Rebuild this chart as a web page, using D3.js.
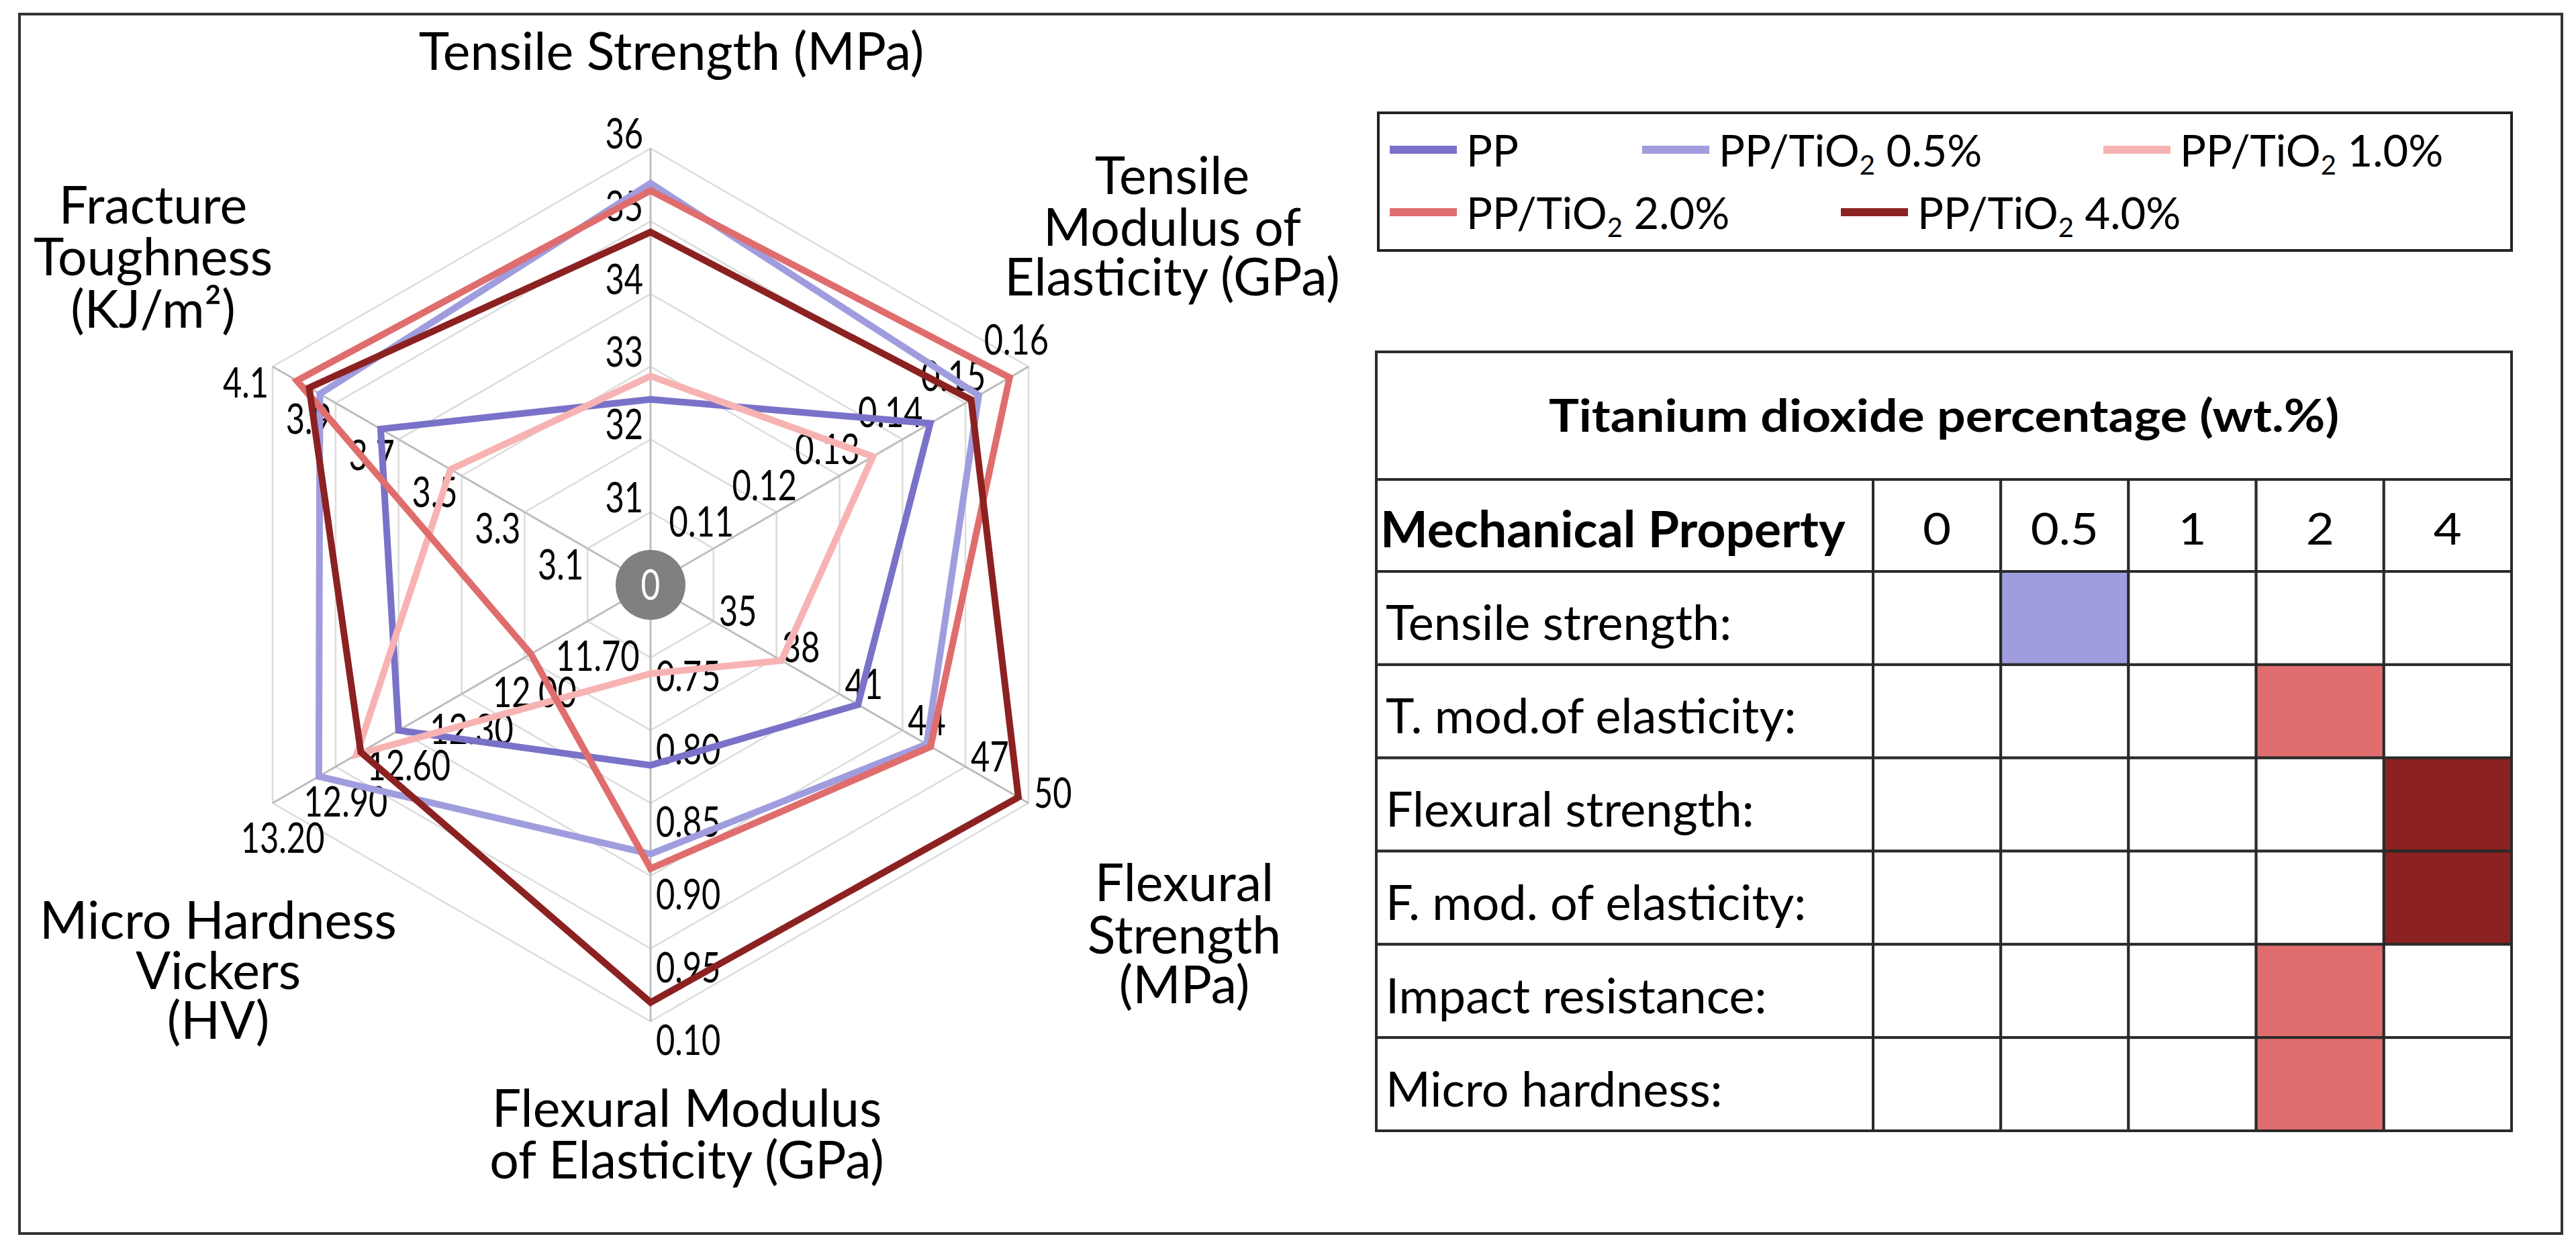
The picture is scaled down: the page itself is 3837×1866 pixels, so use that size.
<!DOCTYPE html>
<html>
<head>
<meta charset="utf-8">
<script src="https://cdn.jsdelivr.net/npm/d3@7"></script>
<style>
body{margin:0;background:#fff}
svg{display:block}
text{font-family:Lato,"Open Sans",sans-serif;fill:#000}
</style>
</head>
<body>
<svg id="chart" width="3837" height="1866"></svg>
<script>
// radar axes, clockwise from the top
var axisTitles = [
  ["Tensile Strength (MPa)"],
  ["Tensile", "Modulus of", "Elasticity (GPa)"],
  ["Flexural", "Strength", "(MPa)"],
  ["Flexural Modulus", "of Elasticity (GPa)"],
  ["Micro Hardness", "Vickers", "(HV)"],
  ["Fracture", "Toughness", "(KJ/m²)"]
];
var axisMin = [30, 0.10, 32, 0.70, 11.40, 2.9];
var axisMax = [36, 0.16, 50, 1.00, 13.20, 4.1];
var tensileStrengthTicks = ["31", "32", "33", "34", "35", "36"];
var tensileModulusTicks = ["0.11", "0.12", "0.13", "0.14", "0.15", "0.16"];
var flexStrengthTicks = ["35", "38", "41", "44", "47", "50"];
var flexModulusTicks = ["0.75", "0.80", "0.85", "0.90", "0.95", "0.10"];
var hardnessTicks = ["11.70", "12.00", "12.30", "12.60", "12.90", "13.20"];
var toughnessTicks = ["3.1", "3.3", "3.5", "3.7", "3.9", "4.1"];

var seriesNames = ["PP", "PP/TiO2 0.5%", "PP/TiO2 1.0%", "PP/TiO2 2.0%", "PP/TiO2 4.0%"];
var seriesColors = ["#7a72c8", "#a09dde", "#f7b3b3", "#e06d6d", "#8c2121"];
// values: TS, TM, FS, FM, MH, FT
var pp      = [32.55, 0.1444, 41.88, 0.824, 12.60, 3.757];
var pp05    = [35.52, 0.1521, 45.15, 0.885, 12.98, 3.950];
var pp10    = [32.87, 0.1353, 38.24, 0.761, 12.80, 3.535];
var pp20    = [35.42, 0.1570, 45.34, 0.895, 11.97, 4.023];
var pp40    = [34.85, 0.1509, 49.52, 0.987, 12.78, 3.984];

// table
var pctColumns = ["0", "0.5", "1", "2", "4"];
var properties = ["Tensile strength:", "T. mod.of elasticity:", "Flexural strength:",
                  "F. mod. of elasticity:", "Impact resistance:", "Micro hardness:"];
var bestColumn = ["0.5", "2", "4", "4", "2", "2"];

var svg = d3.select("#chart");
svg.append("rect").attr("width", 3837).attr("height", 1866).attr("fill", "#fff");
svg.append("rect").attr("x", 29).attr("y", 21).attr("width", 3787).attr("height", 1816)
  .attr("fill", "none").attr("stroke", "#333").attr("stroke-width", 4);

function label(g, x, y, str, size, anchor, o) {
  o = o || {};
  return g.append("text")
    .attr("transform", "translate(" + x + "," + y + ") scale(" + (o.sx || 1) + ",1)")
    .attr("text-anchor", anchor || "start")
    .style("font-size", size + "px")
    .style("font-weight", o.weight || "normal")
    .style("fill", o.color || "#000")
    .text(str);
}

// ---- radar ----
var cx = 969, cy = 871, R = 650, nLevels = 6;
var scales = axisMin.map(function(m, i){ return d3.scaleLinear().domain([m, axisMax[i]]).range([0, R]); });
var angle = function(i){ return (-90 + 60 * i) * Math.PI / 180; };
function pt(i, r){ return [cx + r * Math.cos(angle(i)), cy + r * Math.sin(angle(i))]; }

var radar = svg.append("g");
var levels = d3.range(1, nLevels + 1);
radar.selectAll(".ring").data(levels).enter().append("polygon")
  .attr("points", function(k){ return d3.range(6).map(function(i){ return pt(i, R * k / nLevels).join(","); }).join(" "); })
  .attr("fill", "none").attr("stroke", "#dcdcdc").attr("stroke-width", 2.5);
radar.selectAll(".spoke").data(d3.range(6)).enter().append("line")
  .attr("x1", cx).attr("y1", cy)
  .attr("x2", function(i){ return pt(i, R)[0]; })
  .attr("y2", function(i){ return pt(i, R)[1]; })
  .attr("stroke", "#bdbdbd").attr("stroke-width", 3);

var tickSets = [tensileStrengthTicks, tensileModulusTicks, flexStrengthTicks, flexModulusTicks, hardnessTicks, toughnessTicks];
var tickPlace = [
  {a: "end", dx: -11, dy: 0},
  {a: "middle", dx: -18, dy: -18},
  {a: "start", dx: 8, dy: 7},
  {a: "start", dx: 8, dy: 50},
  {a: "middle", dx: 15, dy: 74},
  {a: "end", dx: -6, dy: 46}
];
tickSets.forEach(function(ticks, i){
  ticks.forEach(function(t, k){
    var p = pt(i, R * (k + 1) / nLevels);
    label(radar, p[0] + tickPlace[i].dx, p[1] + tickPlace[i].dy, t, 61, tickPlace[i].a, {sx: 0.8});
  });
});

var seriesData = [pp, pp05, pp10, pp20, pp40];
var line = d3.line().curve(d3.curveLinearClosed);
radar.selectAll(".series").data(seriesData).enter().append("path")
  .attr("d", function(vals){ return line(vals.map(function(v, i){ return pt(i, scales[i](v)); })); })
  .attr("fill", "none")
  .attr("stroke", function(d, i){ return seriesColors[i]; })
  .attr("stroke-width", 10)
  .attr("stroke-linejoin", "miter");

radar.append("circle").attr("cx", cx).attr("cy", cy).attr("r", 52).attr("fill", "#808080");
label(radar, cx, cy + 22, "0", 62, "middle", {sx: 0.8, color: "#fff"});

// axis titles
var titlePos = [
  {x: 1000, y: [104]},
  {x: 1746, y: [289, 366, 440]},
  {x: 1764, y: [1342, 1420, 1494]},
  {x: 1023, y: [1678, 1755]},
  {x: 325, y: [1398, 1473, 1547]},
  {x: 228, y: [333, 410, 488]}
];
axisTitles.forEach(function(lines, i){
  lines.forEach(function(s, j){ label(svg, titlePos[i].x, titlePos[i].y[j], s, 77, "middle"); });
});

// ---- legend ----
var lg = svg.append("g");
lg.append("rect").attr("x", 2053).attr("y", 168).attr("width", 1688).attr("height", 205)
  .attr("fill", "#fff").attr("stroke", "#222").attr("stroke-width", 4);
var legendPos = [[2070, 223], [2446, 223], [3133, 223], [2070, 316], [2742, 316]];
seriesNames.forEach(function(name, i){
  var p = legendPos[i];
  lg.append("line").attr("x1", p[0]).attr("x2", p[0] + 100).attr("y1", p[1]).attr("y2", p[1])
    .attr("stroke", seriesColors[i]).attr("stroke-width", 12);
  var t = label(lg, p[0] + 114, p[1] + 25, "", 65, "start");
  var m = name.match(/^(PP\/TiO)2(.*)$/);
  if (m) {
    t.append("tspan").text(m[1]);
    t.append("tspan").attr("dy", 12).style("font-size", "40px").text("2");
    t.append("tspan").attr("dy", -12).text(m[2]);
  } else t.text(name);
});

// ---- table ----
var tb = svg.append("g");
var tLeft = 2050, tRight = 3741, tTop = 524, hdrTop = 714, bodyTop = 851, tBottom = 1684, propRight = 2790;
var colX = d3.scaleBand().domain(pctColumns).range([propRight, tRight]);
var rowY = d3.scaleBand().domain(properties).range([bodyTop, tBottom]);

function cell(x, y, w, h, fill){
  tb.append("rect").attr("x", x).attr("y", y).attr("width", w).attr("height", h)
    .attr("fill", fill || "#fff").attr("stroke", "#2a2a2a").attr("stroke-width", 4);
}
cell(tLeft, tTop, tRight - tLeft, hdrTop - tTop);
cell(tLeft, hdrTop, propRight - tLeft, bodyTop - hdrTop);
pctColumns.forEach(function(c){ cell(colX(c), hdrTop, colX.bandwidth(), bodyTop - hdrTop); });
properties.forEach(function(p, r){
  cell(tLeft, rowY(p), propRight - tLeft, rowY.bandwidth());
  pctColumns.forEach(function(c, ci){
    cell(colX(c), rowY(p), colX.bandwidth(), rowY.bandwidth(), bestColumn[r] === c ? seriesColors[ci] : "#fff");
  });
});
label(tb, (tLeft + tRight) / 2, 643, "Titanium dioxide percentage (wt.%)", 66, "middle", {weight: "bold", sx: 1.14});
label(tb, tLeft + 6, 815, "Mechanical Property", 75, "start", {weight: "bold"});
pctColumns.forEach(function(c){ label(tb, colX(c) + colX.bandwidth() / 2, 811, c, 66, "middle", {sx: 1.1}); });
properties.forEach(function(p){ label(tb, tLeft + 14, rowY(p) + rowY.bandwidth() / 2 + 33, p, 72, "start"); });
</script>
</body>
</html>
